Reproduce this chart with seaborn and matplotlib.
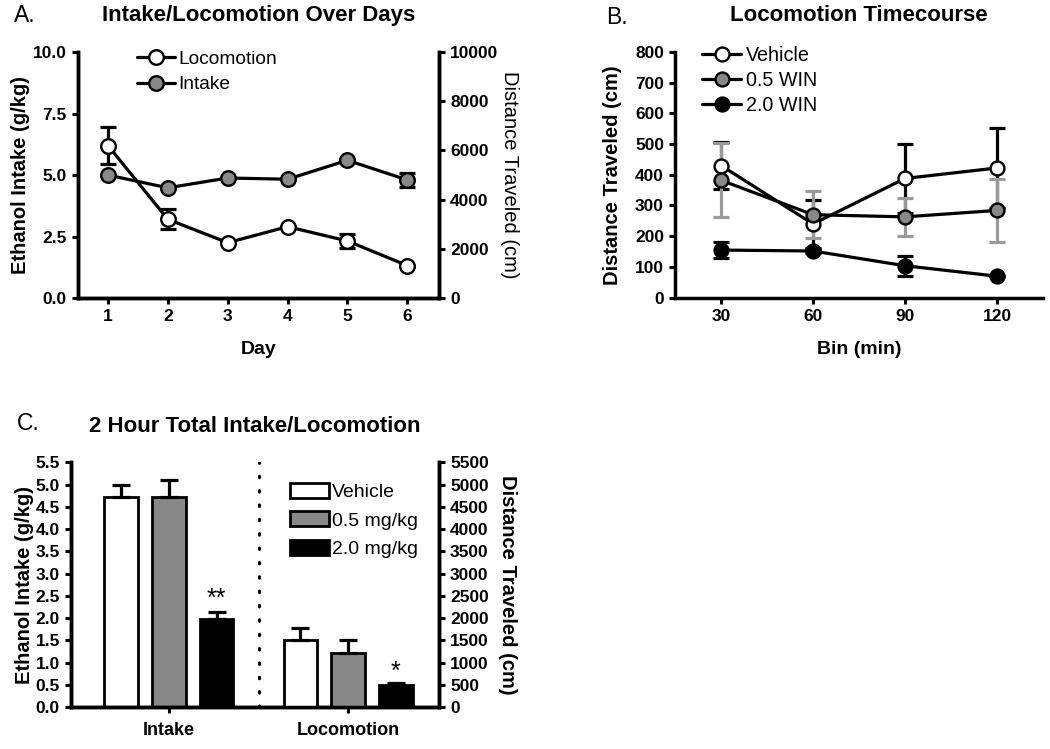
import numpy as np
import pandas as pd
import matplotlib
matplotlib.use("Agg")
import matplotlib.pyplot as plt
import seaborn as sns

# ---------------- data ----------------
# Panel A
days = [1, 2, 3, 4, 5, 6]
intake_days = [5.0, 4.48, 4.88, 4.83, 5.6, 4.8]
intake_days_sem = [0.0, 0.0, 0.0, 0.0, 0.0, 0.3]
loco_days = [6200, 3200, 2250, 2900, 2320, 1320]
loco_days_sem = [750, 400, 0, 0, 300, 0]

# Panel B
bins = [30, 60, 90, 120]
veh_loco = [430, 240, 388, 422]
veh_loco_sem = [78, 77, 113, 131]
win05_loco = [382, 270, 263, 284]
win05_loco_sem = [120, 77, 62, 102]
win20_loco = [155, 152, 104, 70]
win20_loco_sem = [25, 8, 33, 0]
timecourse_labels = ["Vehicle", "0.5 WIN", "2.0 WIN"]

# Panel C
measures = ["Intake", "Locomotion"]
dose_groups = ["Vehicle", "0.5 mg/kg", "2.0 mg/kg"]
total_intake = [4.73, 4.73, 1.98]
total_intake_sem = [0.25, 0.37, 0.16]
total_loco = [1500, 1210, 500]
total_loco_sem = [280, 300, 46]
intake_sig = ["", "", "**"]
loco_sig = ["", "", "*"]

# ---------------- style ----------------
sns.set_theme(style="ticks")
plt.rcParams["font.family"] = ["Liberation Sans", "DejaVu Sans"]
plt.rcParams.update({
    "axes.linewidth": 2.5,
    "xtick.major.width": 2.2,
    "ytick.major.width": 2.2,
    "xtick.major.size": 4.5,
    "ytick.major.size": 4.5,
    "xtick.direction": "out",
    "ytick.direction": "out",
    "xtick.color": "black",
    "ytick.color": "black",
    "axes.edgecolor": "black",
    "text.color": "black",
    "axes.labelcolor": "black",
    "xtick.labelsize": 12.5,
    "ytick.labelsize": 12.5,
})

GRAY = "#888888"
LGRAY = "#9a9a9a"
LW = 2.3
MS = 10.5
MEW = 1.7
CAP = 5.5

fig = plt.figure(figsize=(10.5, 7.49), dpi=100)
axA = fig.add_axes([0.0743, 0.6021, 0.3438, 0.3284])
axB = fig.add_axes([0.6429, 0.6025, 0.3505, 0.3284])
axC = fig.add_axes([0.0676, 0.0557, 0.3505, 0.3271])


def bold_ticks(ax):
    for lab in ax.get_xticklabels() + ax.get_yticklabels():
        lab.set_fontweight("bold")


# ---------------- Panel A ----------------
axA2 = axA.twinx()
axA.errorbar(days, intake_days, yerr=intake_days_sem, fmt="none", ecolor="black",
             elinewidth=LW, capsize=CAP, capthick=LW, zorder=1)
sns.lineplot(x=days, y=intake_days, ax=axA, color="black", linewidth=LW,
             marker="o", markersize=MS, markerfacecolor=GRAY,
             markeredgecolor="black", markeredgewidth=MEW, zorder=3,
             label="Intake", legend=False)
axA2.errorbar(days, loco_days, yerr=loco_days_sem, fmt="none", ecolor="black",
              elinewidth=LW, capsize=CAP, capthick=LW, zorder=1)
sns.lineplot(x=days, y=loco_days, ax=axA2, color="black", linewidth=LW,
             marker="o", markersize=MS, markerfacecolor="white",
             markeredgecolor="black", markeredgewidth=MEW, zorder=3,
             label="Locomotion", legend=False)
axA.set_xlim(0.5, 6.53)
axA.set_ylim(0, 10)
axA2.set_ylim(0, 10000)
axA.set_xticks(days)
axA.set_yticks([0, 2.5, 5.0, 7.5, 10.0])
axA.set_yticklabels(["0.0", "2.5", "5.0", "7.5", "10.0"])
axA2.set_yticks([0, 2000, 4000, 6000, 8000, 10000])
axA.spines["top"].set_visible(False)
axA2.spines["top"].set_visible(False)
axA.set_xlabel("Day", fontsize=14, fontweight="bold", labelpad=12)
axA.set_ylabel("Ethanol Intake (g/kg)", fontsize=14.5, fontweight="bold", labelpad=2)
axA2.set_ylabel("Distance Traveled (cm)", fontsize=14.5, rotation=270, labelpad=15)
axA.set_title("Intake/Locomotion Over Days", fontsize=16, fontweight="bold", pad=22)
hA1, lA1 = axA2.get_legend_handles_labels()
hA2, lA2 = axA.get_legend_handles_labels()
axA2.legend(hA1 + hA2, lA1 + lA2, loc="upper left", bbox_to_anchor=(0.163, 1.006),
            frameon=False, fontsize=13.8, borderpad=0, borderaxespad=0,
            handlelength=2.0, handletextpad=0.15, labelspacing=0.42)
bold_ticks(axA)
bold_ticks(axA2)

# ---------------- Panel B ----------------
series_B = [
    (veh_loco, veh_loco_sem, "white", "black"),
    (win05_loco, win05_loco_sem, GRAY, LGRAY),
    (win20_loco, win20_loco_sem, "black", "black"),
]
for (vals, sem, fc, ec), lab in zip(series_B, timecourse_labels):
    axB.errorbar(bins, vals, yerr=sem, fmt="none", ecolor=ec, elinewidth=LW,
                 capsize=CAP, capthick=LW, zorder=1)
for (vals, sem, fc, ec), lab in zip(series_B, timecourse_labels):
    sns.lineplot(x=bins, y=vals, ax=axB, color="black", linewidth=LW,
                 marker="o", markersize=MS - 0.5, markerfacecolor=fc,
                 markeredgecolor="black", markeredgewidth=MEW, zorder=3,
                 label=lab, legend=False)
axB.set_xlim(15, 135)
axB.set_ylim(0, 800)
axB.set_xticks(bins)
axB.set_yticks(np.arange(0, 801, 100))
sns.despine(ax=axB)
axB.set_xlabel("Bin (min)", fontsize=14, fontweight="bold", labelpad=12)
axB.set_ylabel("Distance Traveled (cm)", fontsize=14.5, fontweight="bold", labelpad=9.5)
axB.set_title("Locomotion Timecourse", fontsize=16, fontweight="bold", pad=22)
hB, lB = axB.get_legend_handles_labels()
axB.legend(hB, lB, loc="upper left", bbox_to_anchor=(0.073, 1.024),
           frameon=False, fontsize=14.2, borderpad=0, borderaxespad=0,
           handlelength=2.0, handletextpad=0.25, labelspacing=0.3)
bold_ticks(axB)

# ---------------- Panel C ----------------
axC2 = axC.twinx()
bar_palette = {"Vehicle": "white", "0.5 mg/kg": GRAY, "2.0 mg/kg": "black"}
df_int = pd.DataFrame({"measure": "Intake", "group": dose_groups, "value": total_intake})
df_loc = pd.DataFrame({"measure": "Locomotion", "group": dose_groups, "value": total_loco})
sns.barplot(data=df_int, x="measure", y="value", hue="group", order=measures,
            hue_order=dose_groups, palette=bar_palette, edgecolor="black",
            linewidth=2.0, gap=0.3, errorbar=None, ax=axC, legend=True)
sns.barplot(data=df_loc, x="measure", y="value", hue="group", order=measures,
            hue_order=dose_groups, palette=bar_palette, edgecolor="black",
            linewidth=2.0, gap=0.3, errorbar=None, ax=axC2, legend=False)

for ax, sems, sigs, off in [(axC, total_intake_sem, intake_sig, 1),
                            (axC2, total_loco_sem, loco_sig, -1)]:
    for cont, sem, sig in zip(ax.containers, sems, sigs):
        for p in cont.patches:
            xc = p.get_x() + p.get_width() / 2
            h = p.get_height()
            ax.errorbar([xc], [h], yerr=[[0], [sem]], fmt="none", ecolor="black",
                        elinewidth=LW, capsize=CAP + 1, capthick=LW, zorder=1)
            if sig:
                ax.annotate(sig, xy=(xc, h + sem), xytext=(0, off),
                            textcoords="offset points", ha="center", va="bottom",
                            fontsize=18)

axC.axvline(0.503, ymin=0, ymax=1, color="black", linewidth=2.2,
            linestyle=(0, (0.5, 4.2)), dash_capstyle="round")
axC.set_xlim(-0.547, 1.508)
axC.set_ylim(0, 5.5)
axC2.set_ylim(0, 5500)
axC.set_yticks(np.arange(0, 5.51, 0.5))
axC.set_yticklabels([f"{v:.1f}" for v in np.arange(0, 5.51, 0.5)])
axC2.set_yticks(np.arange(0, 5501, 500))
axC.spines["top"].set_visible(False)
axC2.spines["top"].set_visible(False)
axC.set_xlabel("")
axC2.set_xlabel("")
axC.set_xticks([0, 1])
axC.set_xticklabels(measures)
axC.tick_params(axis="x", pad=6)
for lab in axC.get_xticklabels():
    lab.set_fontsize(13)
axC.set_ylabel("Ethanol Intake (g/kg)", fontsize=14.5, fontweight="bold", labelpad=1)
axC2.set_ylabel("Distance Traveled (cm)", fontsize=14.5, fontweight="bold",
                rotation=270, labelpad=20)
axC.set_title("2 Hour Total Intake/Locomotion", fontsize=16, fontweight="bold", pad=22)
hC, lC = axC.get_legend_handles_labels()
if axC.get_legend() is not None:
    axC.get_legend().remove()
axC2.legend(hC, lC, loc="upper left", bbox_to_anchor=(0.595, 0.915),
            frameon=False, fontsize=14, borderpad=0, borderaxespad=0,
            handlelength=2.0, handleheight=0.8, handletextpad=0.15,
            labelspacing=0.52)
bold_ticks(axC)
bold_ticks(axC2)

# panel letters
fig.text(25 / 1050, 1 - 16 / 749, "A.", fontsize=16.5, ha="center", va="center")
fig.text(617 / 1050, 1 - 18 / 749, "B.", fontsize=16.5, ha="center", va="center")
fig.text(28 / 1050, 1 - 423 / 749, "C.", fontsize=16.5, ha="center", va="center")

fig.savefig("out.png", dpi=100)
